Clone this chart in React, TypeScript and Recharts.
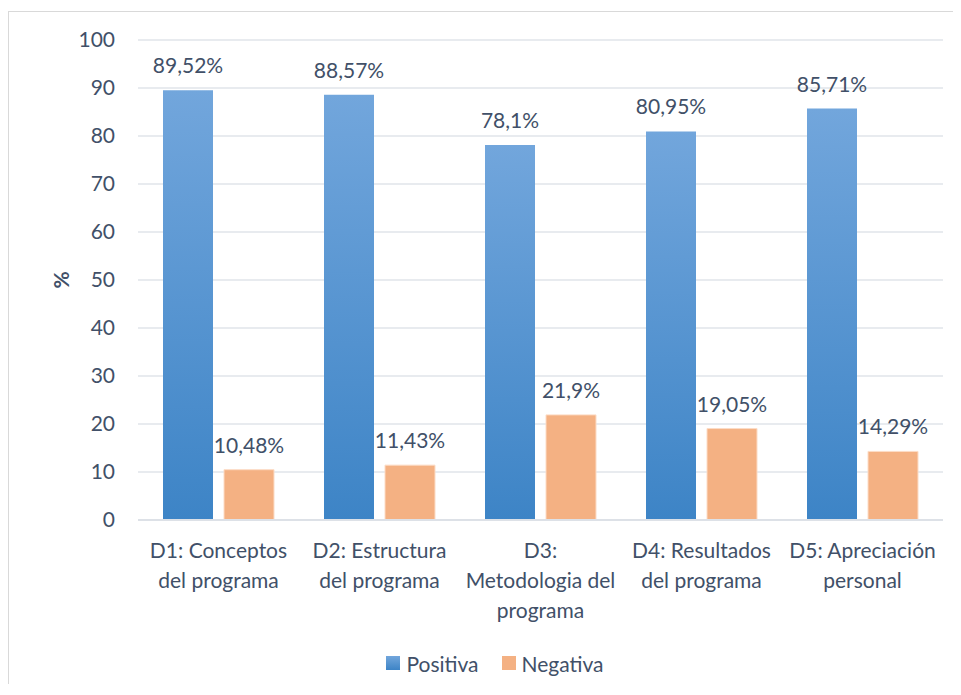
import { BarChart, Bar, XAxis, YAxis, CartesianGrid, Legend, LabelList } from "recharts";

const categories = [
  "D1: Conceptos\ndel programa",
  "D2: Estructura\ndel programa",
  "D3:\nMetodologia del\nprograma",
  "D4: Resultados\ndel programa",
  "D5: Apreciación\npersonal",
];
const positiva = [89.52, 88.57, 78.1, 80.95, 85.71];
const negativa = [10.48, 11.43, 21.9, 19.05, 14.29];
const yTicks = [0, 10, 20, 30, 40, 50, 60, 70, 80, 90, 100];

const data = categories.map((c, i) => ({ name: c, Positiva: positiva[i], Negativa: negativa[i] }));

const TEXT = "#415068";
const FS = 21;
const fmt = (v: any) => String(v).replace(".", ",") + "%";

function XTick({ x, y, payload }: any) {
  const lines = String(payload.value).split("\n");
  return (
    <text x={x} y={y} textAnchor="middle" fill={TEXT} fontSize={FS}>
      {lines.map((l, i) => (
        <tspan key={i} x={x} dy={30}>{l}</tspan>
      ))}
    </text>
  );
}

function YLabel({ viewBox }: any) {
  const cy = viewBox.y + viewBox.height / 2;
  return (
    <text x={51} y={cy} transform={`rotate(-90 51 ${cy})`} textAnchor="middle" dominantBaseline="central"
      fill={TEXT} fontSize={FS} fontWeight="bold">%</text>
  );
}

function LegendBox() {
  const items = [
    { label: "Positiva", fill: "linear-gradient(#72a6dc, #3d84c6)" },
    { label: "Negativa", fill: "#f4b183" },
  ];
  return (
    <div style={{ display: "flex", justifyContent: "center", alignItems: "center", height: 30, paddingLeft: 38, fontSize: FS, color: TEXT }}>
      {items.map((it, i) => (
        <div key={it.label} style={{ display: "flex", alignItems: "center", marginLeft: i ? 23 : 0 }}>
          <span style={{ width: 14, height: 14, background: it.fill, display: "inline-block", marginRight: 6 }} />
          <span>{it.label}</span>
        </div>
      ))}
    </div>
  );
}

export default function App() {
  return (
    <div style={{ position: "relative", top: 3, width: 945, borderTop: "1px solid #d9d9d9", borderLeft: "1px solid #d9d9d9", fontFamily: "Lato, sans-serif" }}>
      <BarChart width={945} height={675} data={data} margin={{ top: 28, right: 11, left: 0, bottom: 9 }} barSize={50} barGap={11}>
        <defs>
          <linearGradient id="blueGrad" x1="0" y1="0" x2="0" y2="1">
            <stop offset="0%" stopColor="#72a6dc" />
            <stop offset="100%" stopColor="#3d84c6" />
          </linearGradient>
        </defs>
        <CartesianGrid vertical={false} stroke="#e1e4ea" strokeWidth={1.5} />
        <XAxis dataKey="name" height={128} tick={<XTick />} tickLine={false} axisLine={{ stroke: "#dde1e7", strokeWidth: 2 }} interval={0} />
        <YAxis width={129} domain={[0, 100]} ticks={yTicks} tickLine={false} axisLine={false} tickMargin={17}
          tick={{ fill: TEXT, fontSize: FS }} label={<YLabel />} />
        <Legend verticalAlign="bottom" height={30} content={<LegendBox />} />
        <Bar dataKey="Positiva" fill="url(#blueGrad)" isAnimationActive={false}>
          <LabelList dataKey="Positiva" position="top" offset={17} formatter={fmt} fill={TEXT} fontSize={FS} />
        </Bar>
        <Bar dataKey="Negativa" fill="#f4b183" stroke="#fcdcc6" strokeWidth={1} isAnimationActive={false}>
          <LabelList dataKey="Negativa" position="top" offset={17} formatter={fmt} fill={TEXT} fontSize={FS} />
        </Bar>
      </BarChart>
    </div>
  );
}
